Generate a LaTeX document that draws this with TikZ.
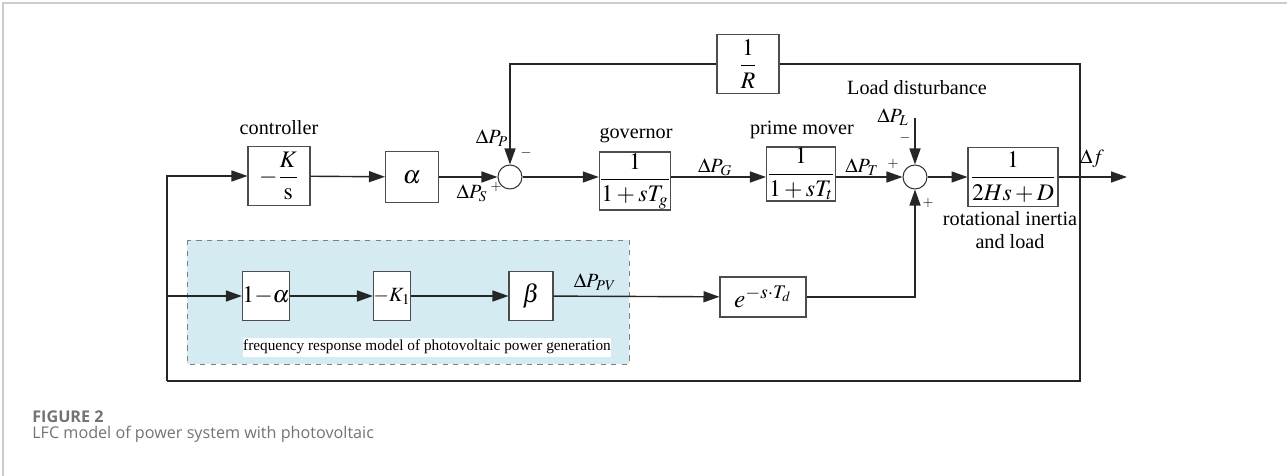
\documentclass[tikz,border=0pt]{standalone}
\usepackage{mathptmx}
\usepackage{fontspec}
\setmainfont{Liberation Serif}
\newfontfamily\capfont{Open Sans}
\usetikzlibrary{arrows.meta,positioning}
\definecolor{pvblue}{RGB}{212,236,241}
\begin{document}
\begin{tikzpicture}[x=0.02cm,y=-0.02cm,
	blk/.style={draw=black!70,fill=white,inner sep=0pt,line width=0.6pt,font=\fontsize{13.5}{16}\selectfont},
	sumnode/.style={draw=black!80,circle,minimum size=0.48cm,inner sep=0pt,line width=0.6pt},
	sig/.style={-{Triangle[length=0.32cm,width=0.22cm]},line width=0.8pt,black!85},
	wire/.style={line width=0.8pt,black!85},
	lbl/.style={inner sep=0pt,font=\fontsize{11.5}{13}\selectfont},
	sgn/.style={inner sep=0pt,font=\fontsize{8}{9}\selectfont}]
	\useasboundingbox (0,0) rectangle (1287,476);
	\draw[black!20,line width=1pt] (3,476) -- (3,3) -- (1287,3);
	% photovoltaic part
	\draw[gray,dashed,fill=pvblue,line width=0.5pt] (187,240) rectangle (629,364);
	\node[lbl,fill=white,minimum width=7.36cm,minimum height=0.38cm,font=\fontsize{8.7}{10}\selectfont] (pvlabel) at (427,347) {frequency response model of photovoltaic power generation};
	% blocks
	\node[blk,minimum width=1.24cm,minimum height=1.18cm] (ctrl) at (279,176) {$\displaystyle -\frac{K}{\mathrm{s}}$};
	\node[blk,minimum width=1.06cm,minimum height=1.02cm] (alp) at (412,177) {\Large$\alpha$};
	\node[sumnode] (sum1) at (510,177) {};
	\node[blk,minimum width=1.36cm,minimum height=1.16cm] (gov) at (635,181) {$\displaystyle \frac{1}{1+sT_g}$};
	\node[blk,minimum width=1.38cm,minimum height=1.08cm] (pm) at (801,174) {$\displaystyle \frac{1}{1+sT_t}$};
	\node[sumnode] (sum2) at (915,177) {};
	\node[blk,minimum width=1.8cm,minimum height=1.18cm] (rot) at (1013,177) {$\displaystyle \frac{1}{2Hs+D}$};
	\node[blk,minimum width=1.24cm,minimum height=1.18cm] (invR) at (748,64) {$\displaystyle \frac{1}{R}$};
	\node[blk,minimum width=0.94cm,minimum height=0.98cm] (oma) at (266,296) {$1{-}\alpha$};
	\node[blk,minimum width=0.68cm,minimum height=0.98cm,font=\fontsize{11.5}{13}\selectfont] (mk1) at (392,296) {$-K_1$};
	\node[blk,minimum width=0.88cm,minimum height=0.98cm] (bet) at (531,296) {\Large$\beta$};
	\node[blk,minimum width=1.72cm,minimum height=0.8cm] (dly) at (763,297) {\Large$e^{-s\cdot T_d}$};
	\coordinate (out) at (1127,177);
	\coordinate (lin) at (915,118);
	\coordinate (cBR) at (1080,381);
	\coordinate (cBL) at (167,381);
	% signal flow
	\draw[sig] (ctrl) -- (alp);
	\draw[sig] (alp) -- (sum1);
	\draw[sig] (sum1) -- (sum1 -| gov.west);
	\draw[sig] (gov.east |- sum1) -- (pm.west |- sum1);
	\draw[sig] (pm.east |- sum2) -- (sum2);
	\draw[sig] (sum2) -- (rot);
	\draw[sig] (rot) -- (out);
	\draw[sig] (lin) -- (sum2);
	\draw[sig] (oma) -- (mk1);
	\draw[sig] (mk1) -- (bet);
	\draw[sig] (bet) -- (dly);
	\draw[sig] (dly) -| (sum2);
	% feedback
	\draw[wire] (invR) -| (cBR) -- (cBL);
	\draw[sig] (cBL) |- (ctrl);
	\draw[sig] (cBL) |- (oma);
	\draw[sig] (invR) -| (sum1);
	% labels
	\node[lbl] (lctrl) at (279,128) {controller};
	\node[lbl] (lgov) at (636,135) {governor};
	\node[lbl] (lpm) at (802,130) {prime mover};
	\node[lbl] (lload) at (917,88) {Load disturbance};
	\node[lbl,align=center] (lrot) at (1010,230) {rotational inertia\\and load};
	\node[lbl] (dpp) at (492,138) {$\Delta P_P$};
	\node[lbl] (dps) at (472,193) {$\Delta P_S$};
	\node[lbl] (dpg) at (715,167) {$\Delta P_G$};
	\node[lbl] (dpt) at (862,167) {$\Delta P_T$};
	\node[lbl] (dpl) at (893,117) {$\Delta P_L$};
	\node[lbl] (df) at (1092,159) {$\Delta f$};
	\node[lbl] (dppv) at (595,282) {$\Delta P_{PV}$};
	\node[sgn] (s1) at (526,153) {$-$};
	\node[sgn] (s2) at (496,187) {$+$};
	\node[sgn] (s3) at (893,164) {$+$};
	\node[sgn] (s4) at (905,138) {$-$};
	\node[sgn] (s5) at (928,203) {$+$};
	% caption
	\node[anchor=base west,inner sep=0pt,text=black!55,font=\capfont\bfseries\fontsize{9.2}{11}\selectfont] (fig) at (32,422) {FIGURE 2};
	\node[anchor=base west,inner sep=0pt,text=black!55,font=\capfont\fontsize{9.2}{11}\selectfont] (cap) at (32,438) {LFC model of power system with photovoltaic};
\end{tikzpicture}
\end{document}
